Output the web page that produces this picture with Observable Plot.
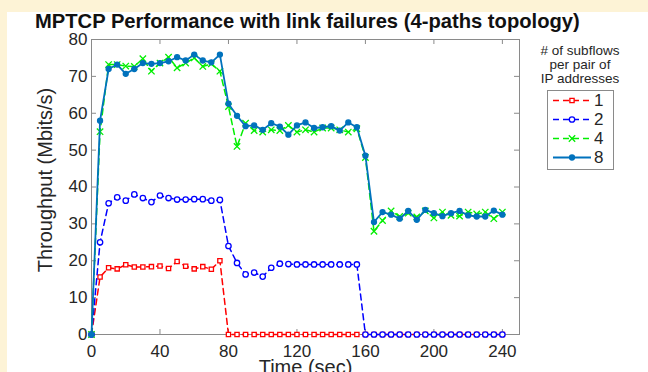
<!DOCTYPE html>
<html><head><meta charset="utf-8">
<script src="https://cdn.jsdelivr.net/npm/d3@7"></script>
<script src="https://cdn.jsdelivr.net/npm/@observablehq/plot@0.6"></script>
<style>
html,body{margin:0;padding:0;}
body{width:648px;height:372px;background:#fdf3d6;position:relative;overflow:hidden;font-family:"Liberation Sans",Arial,Helvetica,sans-serif;}
#panel{position:absolute;left:7px;top:12px;right:0;bottom:0;background:#fff;}
#chart,#overlay{position:absolute;left:0;top:0;}
</style></head><body>
<div id="panel"></div><div id="chart"></div><svg id="overlay" width="648" height="372"></svg>
<script>
// ---- data ----
const title = "MPTCP Performance with link failures (4-paths topology)";
const xLabel = "Time (sec)";
const yLabel = "Throughput (Mbits/s)";
const legendTitle = ["# of subflows", "per pair of", "IP addresses"];
const seriesNames = ["1", "2", "4", "8"];
const time = [0,5,10,15,20,25,30,35,40,45,50,55,60,65,70,75,80,85,90,95,100,105,110,115,120,125,130,135,140,145,150,155,160,165,170,175,180,185,190,195,200,205,210,215,220,225,230,235,240];
const s1 = [0,15.6,18.1,17.8,18.9,18.3,18.3,18.4,18.6,17.9,19.8,18.5,17.8,18.4,17.7,20.0,0,0,0,0,0,0,0,0,0,0,0,0,0,0,0,0,0,0,0,0,0,0,0,0,0,0,0,0,0,0,0,0,0];
const s2 = [0,25.0,35.6,37.2,36.3,38.0,37.0,35.9,37.7,37.0,36.6,36.6,36.7,36.7,36.3,36.5,24.0,19.4,16.3,16.8,15.7,18.1,19.2,19.1,19.0,19.0,19.0,19.0,19.0,19.0,19.0,19.0,0,0,0,0,0,0,0,0,0,0,0,0,0,0,0,0,0];
const s4 = [0,55.0,73.2,73.2,72.8,72.7,74.8,71.4,73.6,75.2,72.3,73.6,75.0,72.7,73.4,71.4,61.8,51.0,57.3,55.3,54.9,55.5,55.3,56.7,54.9,55.5,54.9,56.0,56.0,55.5,54.9,55.8,48.0,28.0,30.9,33.5,32.0,32.9,31.9,33.5,31.6,33.2,32.3,32.1,33.2,32.7,33.2,31.4,33.2];
const s8 = [0,58.0,72.0,73.2,70.7,72.0,73.6,73.4,73.6,74.1,75.2,74.3,75.9,74.3,73.8,75.9,62.6,59.3,56.5,56.7,55.5,57.3,56.4,54.2,56.7,57.5,56.0,56.2,56.5,55.3,57.5,56.2,48.5,30.5,33.2,32.5,31.4,33.5,31.1,33.8,32.9,32.1,32.9,33.5,32.3,32.0,32.0,33.6,32.5];
const xTicks = [0,40,80,120,160,200,240];
const yTicks = [0,10,20,30,40,50,60,70,80];

// ---- styles ----
const styles = [
  {color:"#ff0000", dash:"6,4", width:1.5, symbol:"square", r:2.4, fill:"white"},
  {color:"#0000ff", dash:"6,4", width:1.5, symbol:"circle", r:2.7, fill:"white"},
  {color:"#00ee00", dash:"6,4", width:1.5, symbol:"times",  r:3.0, fill:"none"},
  {color:"#0072bd", dash:null,  width:1.8, symbol:"circle", r:2.5, fill:"#0072bd"}
];
const values = [s1, s2, s4, s8];
const axisGrey = "#8a8a8a";
const W = 648, H = 372, mL = 91, mR = 129, mT = 39, mB = 38;
const innerW = W - mL - mR, innerH = H - mT - mB, tickLen = 5;
const font = '"Liberation Sans", Arial, Helvetica, sans-serif';

const marks = [
  Plot.frame({stroke: axisGrey}),
  Plot.tickX(xTicks, {x: d => d, insetTop: innerH - tickLen, stroke: axisGrey}),
  Plot.tickX(xTicks, {x: d => d, insetBottom: innerH - tickLen, stroke: axisGrey}),
  Plot.tickY(yTicks, {y: d => d, insetRight: innerW - tickLen, stroke: axisGrey}),
  Plot.tickY(yTicks, {y: d => d, insetLeft: innerW - tickLen, stroke: axisGrey})
];
seriesNames.forEach((name, i) => {
  const st = styles[i];
  const rows = time.map((t, j) => ({t, v: values[i][j]}));
  marks.push(Plot.line(rows, {x: "t", y: "v", stroke: st.color, strokeWidth: st.width, strokeDasharray: st.dash}));
  marks.push(Plot.dot(rows, {x: "t", y: "v", symbol: st.symbol, r: st.r, stroke: st.color, fill: st.fill, strokeWidth: 1.3}));
});
marks.push(
  Plot.axisX({ticks: xTicks, tickSize: 0, tickPadding: 10, fontSize: 17, label: null}),
  Plot.axisY({ticks: yTicks, tickSize: 0, tickPadding: 4, fontSize: 17, label: null}),
  Plot.text([yLabel], {text: d => d, frameAnchor: "left", textAnchor: "middle", lineAnchor: "middle", rotate: -90, dx: -46, dy: -7, fontSize: 20}),
  Plot.text([xLabel], {text: d => d, frameAnchor: "bottom", textAnchor: "middle", lineAnchor: "top", dy: 25, fontSize: 20})
);

const chart = Plot.plot({
  width: W, height: H,
  marginLeft: mL, marginRight: mR, marginTop: mT, marginBottom: mB,
  x: {domain: [0, 250]},
  y: {domain: [0, 80]},
  style: {background: "transparent", color: "#262626", fontFamily: font, overflow: "visible"},
  marks
});
document.getElementById("chart").appendChild(chart);

// ---- overlay: title and legend ----
const ov = d3.select("#overlay").style("font-family", font);
ov.append("text").attr("x", 35).attr("y", 28).attr("font-size", 20.2).attr("font-weight", "bold").attr("fill", "#111").text(title);
legendTitle.forEach((s, i) => {
  ov.append("text").attr("x", 580).attr("y", 55 + i * 14.2).attr("text-anchor", "middle").attr("font-size", 13.5).attr("fill", "#262626").text(s);
});
ov.append("rect").attr("x", 547.5).attr("y", 90.5).attr("width", 66).attr("height", 79).attr("fill", "white").attr("stroke", axisGrey);
const symMap = {square: d3.symbolSquare, circle: d3.symbolCircle, times: d3.symbolTimes};
seriesNames.forEach((name, i) => {
  const st = styles[i];
  const y = 100.5 + i * 19;
  ov.append("line").attr("x1", 553).attr("x2", 591).attr("y1", y).attr("y2", y)
    .attr("stroke", st.color).attr("stroke-width", st.width).attr("stroke-dasharray", st.dash);
  ov.append("path").attr("transform", `translate(572,${y})`)
    .attr("d", d3.symbol(symMap[st.symbol], Math.PI * st.r * st.r)())
    .attr("stroke", st.color).attr("fill", st.fill).attr("stroke-width", 1.3);
  ov.append("text").attr("x", 594).attr("y", y).attr("dy", "0.35em").attr("font-size", 17).attr("fill", "#262626").text(name);
});
</script>
</body></html>
